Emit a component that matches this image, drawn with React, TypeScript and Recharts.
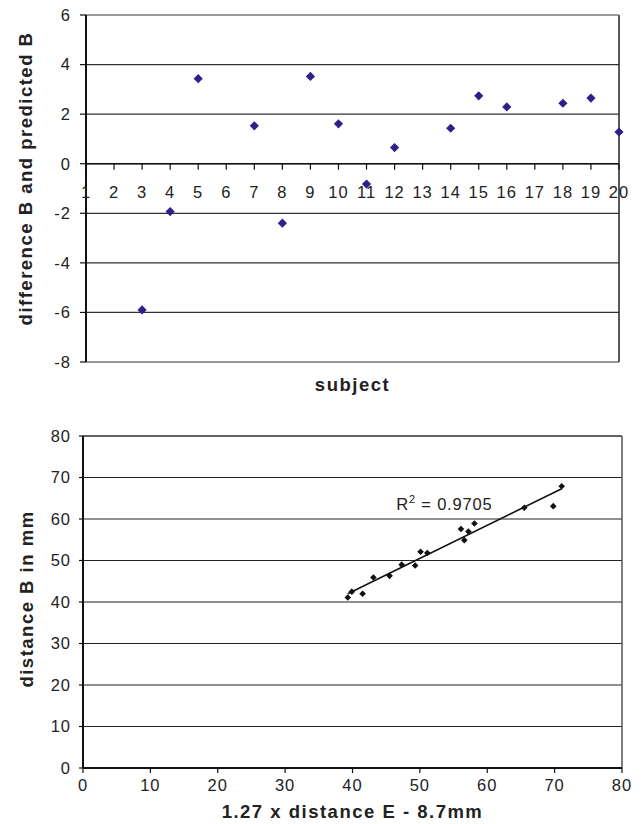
import {
  CartesianGrid,
  ReferenceDot,
  ReferenceLine,
  Scatter,
  ScatterChart,
  XAxis,
  YAxis,
} from "recharts";

// top chart: residuals per subject
const subjects = [3, 4, 5, 7, 8, 9, 10, 11, 12, 14, 15, 16, 18, 19, 20];
const differences = [-5.9, -1.93, 3.43, 1.53, -2.4, 3.52, 1.61, -0.82, 0.65, 1.43, 2.74, 2.29, 2.44, 2.65, 1.28];
const subjectTicks = [1, 2, 3, 4, 5, 6, 7, 8, 9, 10, 11, 12, 13, 14, 15, 16, 17, 18, 19, 20];
const diffTicks = [-8, -6, -4, -2, 0, 2, 4, 6];

// bottom chart: measured vs predicted
const predictedE = [39.3, 39.9, 41.5, 43.1, 45.5, 47.3, 49.3, 50.1, 51.1, 56.1, 56.6, 57.2, 58.1, 65.5, 69.8, 71.05];
const distanceB = [41.1, 42.5, 42.0, 45.9, 46.3, 49.0, 48.8, 52.1, 51.8, 57.6, 54.9, 57.0, 58.9, 62.7, 63.1, 67.9];
const trendX = [39.3, 71.05];
const trendY = [42.0, 67.3];
const distTicks = [0, 10, 20, 30, 40, 50, 60, 70, 80];

const topData = subjects.map((s, i) => ({ x: s, y: differences[i] }));
const bottomData = predictedE.map((x, i) => ({ x, y: distanceB[i] }));

const font = "'Liberation Sans', Arial, sans-serif";
const tickStyle = { fontSize: 16.5, fill: "#222", fontFamily: font, letterSpacing: 1 };
const titleStyle = { fontSize: 18.5, fontWeight: 700, fill: "#222", fontFamily: font, letterSpacing: 1.5 };

function Diamond(props: any) {
  const { cx, cy, r, fill } = props;
  if (cx == null || cy == null) return null;
  return <polygon points={`${cx},${cy - r} ${cx + r},${cy} ${cx},${cy + r} ${cx - r},${cy}`} fill={fill} />;
}

function SubjectTick(props: any) {
  const { cx, cy, label } = props;
  return (
    <g>
      <line x1={cx} y1={cy} x2={cx} y2={cy + 6} stroke="#111" strokeWidth={1.2} />
      <text x={cx} y={cy + 34} textAnchor="middle" style={tickStyle}>
        {label}
      </text>
    </g>
  );
}

function RSquared(props: any) {
  const { cx, cy } = props;
  return (
    <text x={cx} y={cy} style={{ ...tickStyle, letterSpacing: 0.8 }}>
      R
      <tspan dy={-7} fontSize={11}>2</tspan>
      <tspan dy={7}> = 0.9705</tspan>
    </text>
  );
}

export default function App() {
  return (
    <div style={{ position: "absolute", left: 0, top: 0, width: 643, height: 824, background: "#fff" }}>
      <div style={{ position: "absolute", left: 0, top: 0 }}>
        <ScatterChart width={643} height={410} margin={{ top: 15, right: 24, bottom: 0, left: 0 }}>
          <CartesianGrid horizontal vertical={false} stroke="#333" strokeWidth={1.2} />
          <XAxis
            type="number"
            dataKey="x"
            domain={[1, 20]}
            ticks={[1, 20]}
            tick={false}
            axisLine={false}
            tickLine={false}
            height={48}
            label={{ value: "subject", position: "insideBottom", offset: 19, style: titleStyle }}
          />
          <YAxis
            type="number"
            dataKey="y"
            domain={[-8, 6]}
            ticks={diffTicks}
            width={86}
            interval={0}
            tick={tickStyle}
            tickSize={6}
            tickMargin={9}
            axisLine={{ stroke: "#111", strokeWidth: 2 }}
            tickLine={{ stroke: "#111", strokeWidth: 1.2 }}
            label={{ value: "difference B and predicted B", angle: -90, position: "insideLeft", offset: 25, dy: -10, style: { ...titleStyle, textAnchor: "middle" } }}
          />
          <ReferenceLine x={20} stroke="#222" strokeWidth={1.5} ifOverflow="extendDomain" />
          <ReferenceLine y={6} stroke="#999" strokeWidth={1.2} />
          <ReferenceLine y={0} stroke="#111" strokeWidth={1.5} />
          {subjectTicks.map((t) => (
            <ReferenceDot key={t} x={t} y={0} r={0} shape={(p: any) => <SubjectTick {...p} label={String(t)} />} />
          ))}
          <Scatter data={topData} fill="#2e1f8a" shape={(p: any) => <Diamond {...p} r={4.6} />} isAnimationActive={false} />
        </ScatterChart>
      </div>
      <div style={{ position: "absolute", left: 0, top: 410 }}>
        <ScatterChart width={643} height={414} margin={{ top: 26, right: 21, bottom: 0, left: 0 }}>
          <CartesianGrid horizontal vertical={false} stroke="#222" strokeWidth={1.1} />
          <XAxis
            type="number"
            dataKey="x"
            domain={[0, 80]}
            ticks={distTicks}
            interval={0}
            height={56}
            tick={tickStyle}
            tickSize={5}
            tickMargin={6}
            axisLine={{ stroke: "#111", strokeWidth: 2 }}
            tickLine={{ stroke: "#111", strokeWidth: 1.2 }}
            label={{ value: "1.27 x distance E - 8.7mm", position: "insideBottom", offset: 6, style: titleStyle }}
          />
          <YAxis
            type="number"
            dataKey="y"
            domain={[0, 80]}
            ticks={distTicks}
            interval={0}
            width={83}
            tick={tickStyle}
            tickSize={4}
            tickMargin={8}
            axisLine={{ stroke: "#111", strokeWidth: 2 }}
            tickLine={{ stroke: "#111", strokeWidth: 1.2 }}
            label={{ value: "distance B in mm", angle: -90, position: "insideLeft", offset: 26, dy: -3, style: { ...titleStyle, textAnchor: "middle" } }}
          />
          <ReferenceLine x={80} stroke="#555" strokeWidth={1.5} />
          <ReferenceLine y={80} stroke="#555" strokeWidth={1.5} />
          <ReferenceLine
            segment={[
              { x: trendX[0], y: trendY[0] },
              { x: trendX[1], y: trendY[1] },
            ]}
            stroke="#111"
            strokeWidth={1.6}
          />
          <ReferenceDot x={46.5} y={62.1} r={0} shape={(p: any) => <RSquared {...p} />} />
          <Scatter data={bottomData} fill="#111" shape={(p: any) => <Diamond {...p} r={3.3} />} isAnimationActive={false} />
        </ScatterChart>
      </div>
    </div>
  );
}
